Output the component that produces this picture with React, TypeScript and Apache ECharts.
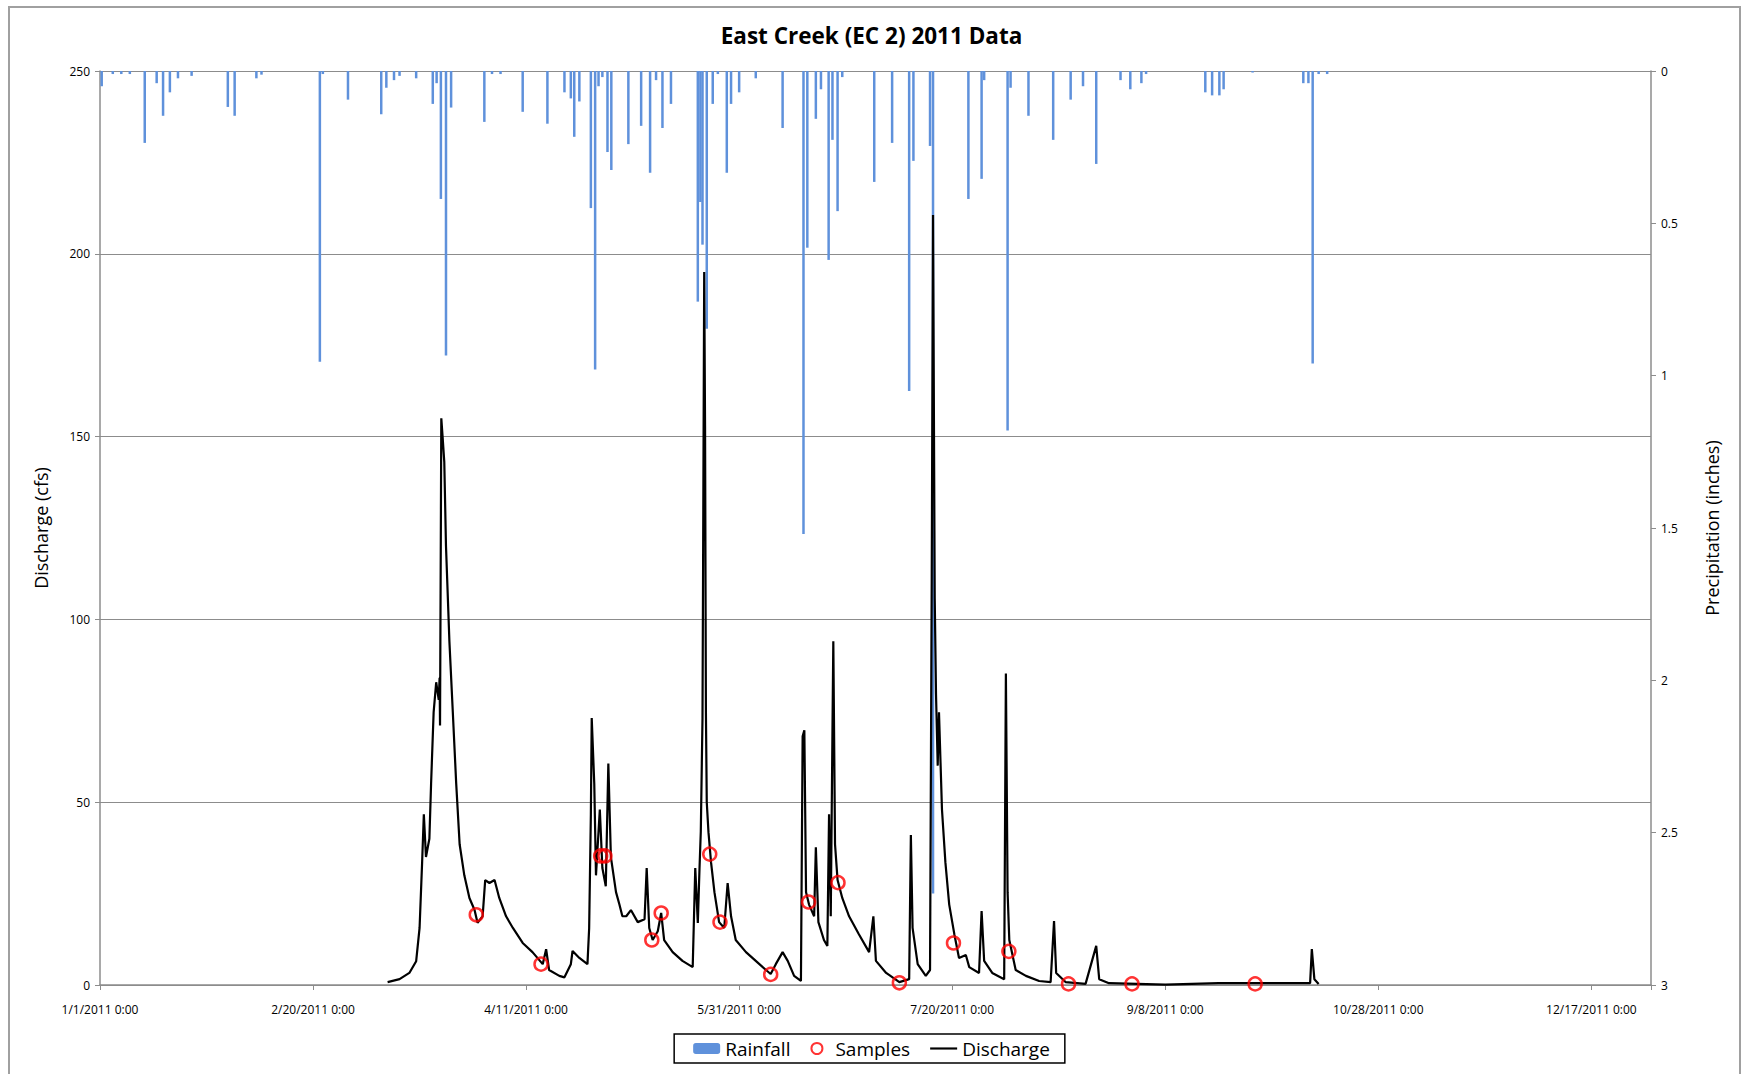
import React, { useEffect, useRef } from "react";
import * as echarts from "echarts";

const TITLE = "East Creek (EC 2) 2011 Data";
const xTickLabels = [
  "1/1/2011 0:00",
  "2/20/2011 0:00",
  "4/11/2011 0:00",
  "5/31/2011 0:00",
  "7/20/2011 0:00",
  "9/8/2011 0:00",
  "10/28/2011 0:00",
  "12/17/2011 0:00",
];

// [day of year (0 = 1/1/2011 0:00), inches]
const rainfall: [number, number][] = [
  [0.4, 0.05], [3, 0.01], [5, 0.01], [7, 0.01], [10.5, 0.236], [13.3, 0.04], [14.8, 0.147],
  [16.4, 0.07], [18.3, 0.024], [21.5, 0.016], [30.0, 0.118], [31.6, 0.147], [36.7, 0.024],
  [37.9, 0.012], [51.6, 0.954], [52.3, 0.01], [58.2, 0.094], [66.0, 0.142], [67.2, 0.055],
  [69.0, 0.03], [70.3, 0.016], [74.2, 0.024], [78.1, 0.108], [79.0, 0.04], [80.0, 0.42],
  [81.2, 0.934], [82.4, 0.12], [90.2, 0.167], [92, 0.01], [94, 0.01], [99.2, 0.134],
  [105.0, 0.173], [109.0, 0.07], [110.5, 0.09], [111.3, 0.216], [112.5, 0.1], [115.2, 0.45],
  [116.2, 0.98], [117.0, 0.05], [117.9, 0.02], [119.1, 0.266], [120.0, 0.325], [124.0, 0.24],
  [127.0, 0.18], [129.1, 0.334], [130.5, 0.03], [132.0, 0.187], [134.0, 0.108], [140.3, 0.757],
  [140.9, 0.43], [141.4, 0.57], [142.4, 0.846], [143.8, 0.108], [145.0, 0.01], [147.1, 0.334],
  [148.1, 0.108], [150.0, 0.07], [153.9, 0.024], [160.2, 0.187], [165.1, 1.52], [166.0, 0.58],
  [168.0, 0.157], [169.2, 0.06], [171.0, 0.62], [171.9, 0.226], [173.1, 0.46], [174.2, 0.02],
  [181.7, 0.364], [185.9, 0.236], [189.9, 1.05], [190.9, 0.295], [194.8, 0.246], [195.5, 2.7],
  [203.8, 0.42], [206.9, 0.354], [207.5, 0.03], [213.0, 1.18], [213.7, 0.055], [217.9, 0.147],
  [223.7, 0.226], [227.8, 0.094], [230.7, 0.05], [233.8, 0.305], [239.5, 0.03], [241.8, 0.06],
  [244.4, 0.04], [245.5, 0.01], [259.4, 0.07], [261.0, 0.08], [262.7, 0.08], [263.7, 0.06],
  [270.5, 0.005], [282.4, 0.04], [283.6, 0.04], [284.6, 0.96], [286, 0.01], [288, 0.01],
];

// [day, cfs]
const discharge: [number, number][] = [
  [67.5, 0.8], [70.3, 1.6], [72.6, 3.3], [74.2, 6.5], [75.0, 15.6], [75.6, 33.6], [76.0, 46.7],
  [76.5, 35], [77.3, 40], [77.7, 55], [78.3, 74.6], [78.9, 82.8], [79.5, 78], [79.7, 84],
  [79.8, 71], [80.1, 155], [80.4, 150], [80.8, 143], [81.2, 120], [81.6, 107], [82.0, 94],
  [82.8, 74.6], [83.6, 55], [84.4, 38.5], [85.5, 30], [86.7, 23.8], [87.9, 20.5], [88.6, 17],
  [89.8, 18.8], [90.4, 28.7], [91.4, 27.9], [92.6, 28.7], [93.7, 23.8], [95.3, 18.8],
  [96.9, 15.6], [99.2, 11.5], [101.5, 9], [103.9, 5.7], [104.7, 9.8], [105.4, 4.1],
  [107.8, 2.5], [109.0, 2.1], [110.5, 5.7], [110.9, 9.3], [112.5, 7.4], [114.4, 5.7],
  [114.8, 15.6], [115.2, 46.7], [115.4, 73], [116.0, 55], [116.4, 30], [117.3, 48], [117.9, 32],
  [118.7, 27], [119.3, 60.6], [119.9, 35], [121.1, 25.4], [121.9, 22], [122.6, 18.8],
  [123.5, 18.8], [124.6, 20.5], [126.2, 17.2], [127.8, 18], [128.3, 32], [128.9, 15.6],
  [129.7, 12.3], [130.9, 14.7], [131.7, 19.7], [132.4, 12.3], [134.4, 9], [136.7, 6.6],
  [139.1, 4.9], [139.7, 32], [140.3, 17], [140.7, 32], [141.0, 42], [141.4, 73], [141.8, 195],
  [142.0, 153], [142.2, 74.6], [142.4, 50], [142.8, 41.8], [143.4, 33.6], [144.2, 25.4],
  [145.3, 17.2], [146.5, 15.6], [147.3, 27.9], [148.1, 18.8], [149.2, 12.3], [151.6, 9],
  [153.9, 6.6], [156.3, 4.1], [157.4, 3], [158.6, 5.7], [160.2, 9], [161.4, 6.6], [162.9, 2.5],
  [164.5, 1.1], [164.9, 68], [165.3, 69.7], [165.7, 25.4], [166.4, 22], [167.6, 18.8],
  [168.0, 37.7], [168.6, 17.2], [169.9, 12.3], [170.7, 10.7], [171.1, 46.7], [171.5, 18.8],
  [171.9, 69.7], [172.1, 94], [172.5, 38.5], [173.1, 28.7], [174.2, 23.8], [175.8, 18.8],
  [178.1, 13.9], [180.5, 9], [181.5, 18.8], [182.1, 6.6], [184.5, 3.3], [187.6, 0.8],
  [189.9, 1.6], [190.3, 41], [190.7, 15.6], [191.9, 5.7], [193.8, 2.5], [194.8, 4.1],
  [195.2, 112], [195.5, 210.6], [195.9, 105.7], [196.2, 79.5], [196.6, 60], [196.9, 74.6],
  [197.6, 48], [198.4, 33.6], [199.3, 22], [200.5, 13.9], [201.6, 7.4], [203.2, 8.2],
  [204.0, 4.9], [206.3, 3.3], [206.9, 20.2], [207.5, 6.6], [209.4, 3.3], [212.2, 1.6],
  [212.6, 85.2], [213.0, 25.4], [213.4, 12.3], [214.9, 4.1], [217.3, 2.5], [220.4, 1.1],
  [223.1, 0.8], [223.9, 17.5], [224.4, 3.3], [226.6, 0.8], [231.3, 0.3], [233.8, 10.7],
  [234.5, 1.6], [236.8, 0.5], [250.0, 0.1], [262.5, 0.5], [284.0, 0.5], [284.4, 9.8],
  [285.0, 1.6], [286.0, 0.3],
];

// [day, cfs]
const samples: [number, number][] = [
  [88.3, 19.2], [103.5, 5.7], [117.5, 35.3], [118.5, 35.3], [129.5, 12.3], [131.7, 19.7],
  [143.1, 35.8], [145.5, 17.2], [157.4, 2.9], [166.3, 22.7], [173.2, 28], [187.6, 0.6],
  [200.3, 11.5], [213.3, 9.2], [227.3, 0.3], [242.2, 0.3], [271.1, 0.3],
];

const FONT = "'Open Sans', Lato, sans-serif";
const GRAY = "#8c8c8c";

export default function App() {
  const ref = useRef<HTMLDivElement>(null);
  useEffect(() => {
    if (!ref.current) return;
    const chart = echarts.init(ref.current, null, { renderer: "svg" });
    const option: any = {
      animation: false,
      backgroundColor: "#fff",
      textStyle: { fontFamily: FONT },
      title: {
        text: TITLE,
        left: "center",
        top: 19,
        textStyle: { fontFamily: FONT, fontSize: 22.5, fontWeight: "bold", color: "#000" },
      },
      graphic: [
        {
          type: "rect",
          shape: { x: 9, y: 7, width: 1731, height: 1090 },
          style: { fill: "none", stroke: "#a0a0a0", lineWidth: 2 },
          silent: true,
        },
      ],
      legend: {
        data: [
          { name: "Rainfall" },
          { name: "Samples" },
          { name: "Discharge", icon: "path://M0,0 L25,0 L25,2 L0,2 Z" },
        ],
        symbolKeepAspect: true,
        left: "center",
        top: 1034,
        borderColor: "#000",
        borderWidth: 1.5,
        padding: [5, 15, 5, 19],
        itemGap: 20,
        itemWidth: 27,
        itemHeight: 11,
        textStyle: { fontFamily: FONT, fontSize: 19, color: "#000" },
      },
      grid: { left: 100, right: 92, top: 71, bottom: 89, containLabel: false },
      xAxis: {
        type: "value",
        min: 0,
        max: 364,
        interval: 50,
        axisLine: { show: true, onZero: false, lineStyle: { color: GRAY, width: 1.5 } },
        axisTick: { show: true, length: 5, lineStyle: { color: GRAY } },
        splitLine: { show: false },
        axisLabel: {
          margin: 18,
          fontSize: 12,
          color: "#000",
          fontFamily: FONT,
          formatter: (v: number) => (v % 50 === 0 ? xTickLabels[v / 50] ?? "" : ""),
        },
      },
      yAxis: [
        {
          type: "value",
          min: 0,
          max: 250,
          interval: 50,
          name: "Discharge (cfs)",
          nameLocation: "middle",
          nameGap: 50,
          nameTextStyle: { fontFamily: FONT, fontSize: 18, color: "#000" },
          axisLine: { show: true, lineStyle: { color: GRAY, width: 1.5 } },
          axisTick: { show: true, length: 5, lineStyle: { color: GRAY } },
          splitLine: { show: true, lineStyle: { color: GRAY, width: 1.2 } },
          axisLabel: { fontSize: 12, color: "#000", margin: 10, fontFamily: FONT },
        },
        {
          type: "value",
          min: 0,
          max: 3,
          interval: 0.5,
          inverse: true,
          position: "right",
          name: "Precipitation (inches)",
          nameLocation: "middle",
          nameGap: 52,
          nameRotate: 90,
          nameTextStyle: { fontFamily: FONT, fontSize: 18, color: "#000" },
          axisLine: { show: true, lineStyle: { color: GRAY, width: 1.5 } },
          axisTick: { show: true, length: 5, lineStyle: { color: GRAY } },
          splitLine: { show: false },
          axisLabel: { fontSize: 12, color: "#000", margin: 10, fontFamily: FONT },
        },
      ],
      series: [
        {
          name: "Rainfall",
          type: "bar",
          yAxisIndex: 1,
          barWidth: 2.5,
          itemStyle: { color: "#5f91db" },
          data: rainfall,
        },
        {
          name: "Samples",
          type: "scatter",
          yAxisIndex: 0,
          symbol: "circle",
          symbolSize: 13,
          itemStyle: { color: "rgba(255,255,255,0)", borderColor: "#ff0000", borderWidth: 2.5 },
          z: 5,
          data: samples,
        },
        {
          name: "Discharge",
          type: "line",
          yAxisIndex: 0,
          symbol: "none",
          showSymbol: false,
          lineStyle: { color: "#000", width: 2.2 },
          itemStyle: { color: "#000" },
          z: 4,
          data: discharge,
        },
      ],
    };
    chart.setOption(option);
    return () => chart.dispose();
  }, []);
  return (
    <div
      ref={ref}
      style={{ position: "fixed", left: 0, top: 0, width: 1743, height: 1074 }}
    />
  );
}
